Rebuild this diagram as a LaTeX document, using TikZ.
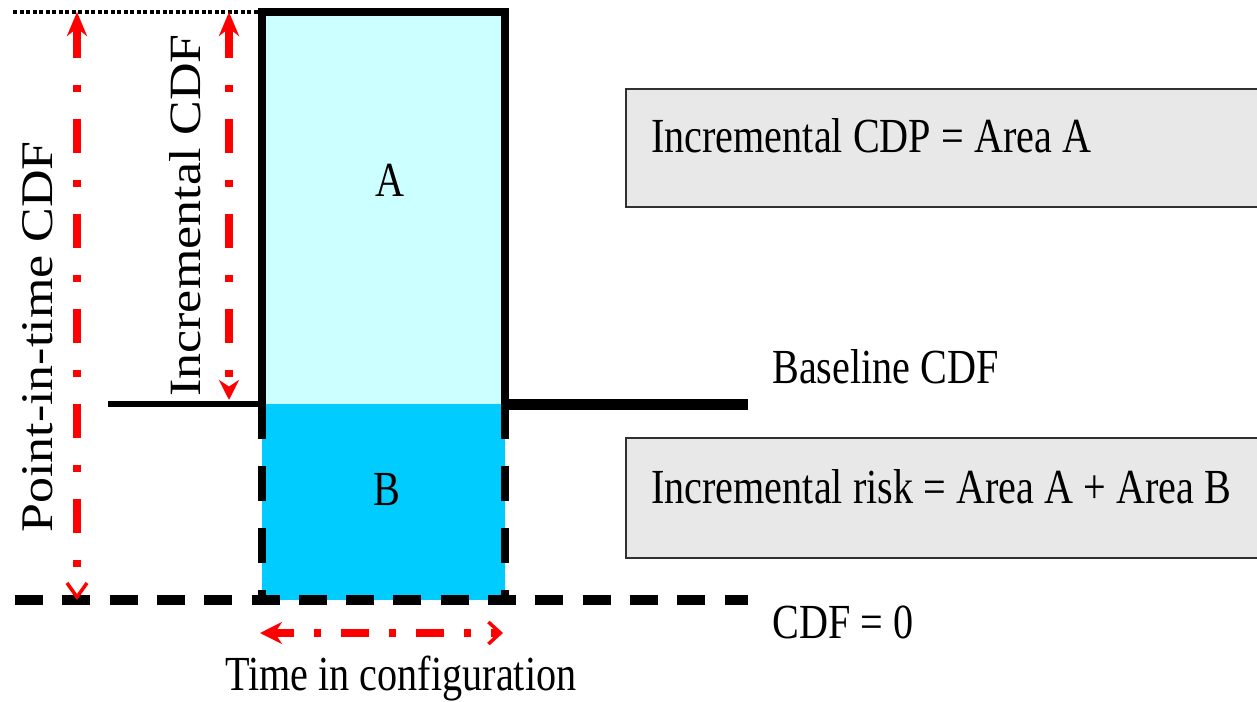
\documentclass[tikz,border=0pt]{standalone}
\usepackage{fontspec}
\setmainfont{Liberation Serif}
\usetikzlibrary{arrows.meta}
\definecolor{areaA}{HTML}{CCFFFF}
\definecolor{areaB}{HTML}{00CCFF}
\definecolor{boxgray}{HTML}{E8E8E8}
\definecolor{boxedge}{HTML}{303030}
\tikzset{
  htext/.style={inner sep=0pt, font=\fontsize{49}{58}\selectfont},
  vtext/.style={inner sep=0pt, rotate=90, anchor=base west, font=\fontsize{52}{60}\selectfont},
  notebox/.style={draw=boxedge, fill=boxgray, line width=2pt, anchor=north west, inner sep=0pt, minimum width=700pt, minimum height=118pt},
  vred/.style={red, line width=7.5pt, dash pattern=on 34pt off 27pt on 7pt off 27pt, dash phase=3pt},
  hred/.style={red, line width=8pt, dash pattern=on 28pt off 20pt on 7pt off 20pt, dash phase=8pt},
  blackdash/.style={line width=10pt, dash pattern=on 28pt off 19.3pt},
  sidedash/.style={line width=8pt, dash pattern=on 35pt off 27pt},
}
\begin{document}
\begin{tikzpicture}[x=1pt,y=-1pt]
\useasboundingbox (0,0) rectangle (1257,701);
\clip (0,0) rectangle (1257,701);
% key points
\coordinate (TL) at (262,12);
\coordinate (TR) at (505,12);
\coordinate (ML) at (262,404);
\coordinate (MR) at (505,404);
\coordinate (BL) at (262,600);
\coordinate (BR) at (505,600);
\coordinate (dotL) at (13,12);
\coordinate (baseL) at (108,404);
\coordinate (baseR) at (748,404);
\coordinate (zeroL) at (15,600);
\coordinate (zeroR) at (748,600);
\coordinate (pitTop) at (77,12);
\coordinate (pitBot) at (77,600);
\coordinate (incTop) at (229,12);
\coordinate (incBot) at (229,400);
\coordinate (timeL) at (260,633);
\coordinate (timeR) at (503,633);
% areas
\fill[areaA] (TL) rectangle (MR);
\fill[areaB] (ML) rectangle (BR);
% boxes
\node[notebox] (box1) at (625,88) {};
\node[notebox, minimum height=120pt] (box2) at (625,437) {};
% lines
\draw[line width=4pt, dash pattern=on 4pt off 2.5pt] (dotL) -- (TL);
\draw[line width=6pt] (baseL) -- (ML);
\draw[line width=11pt] (MR) -- (baseR);
\draw[line width=7.5pt, line join=miter] (ML) -- (TL) -- (TR) -- (MR);
\draw[sidedash] (ML) -- (BL);
\draw[sidedash] (MR) -- (BR);
\draw[blackdash] (zeroL) -- (zeroR);
% red arrows
\draw[vred, {Stealth[length=24pt,width=20pt]}-{Straight Barb[length=14pt,width=20pt,line width=3.5pt]}] (pitTop) -- (pitBot);
\draw[vred, {Stealth[length=24pt,width=20pt]}-{Stealth[length=20pt,width=20pt]}] (incTop) -- (incBot);
\draw[hred, {Stealth[length=22pt,width=22pt]}-{Straight Barb[length=12pt,width=22pt,line width=3.5pt]}] (timeL) -- (timeR);
% texts
\node[htext] (lblA) at (390,180) {\scalebox{0.82}[1]{A}};
\node[htext] (lblB) at (387,490) {\scalebox{0.82}[1]{B}};
\node[htext, anchor=base west] (cdp) at (651,152) {\scalebox{0.82}[1]{Incremental CDP = Area A}};
\node[htext, anchor=base west] (risk) at (651,503) {\scalebox{0.82}[1]{Incremental risk = Area A + Area B}};
\node[htext, anchor=base west] (basel) at (772,383) {\scalebox{0.82}[1]{Baseline CDF}};
\node[htext, anchor=base west] (zero) at (772,638) {\scalebox{0.82}[1]{CDF = 0}};
\node[htext, anchor=base west] (time) at (225,690) {\scalebox{0.82}[1]{Time in configuration}};
\node[vtext] (pit) at (52,533) {\scalebox{1}[0.87]{Point-in-time CDF}};
\node[vtext] (icdf) at (200,397) {\scalebox{1}[0.86]{Incremental CDF}};
\end{tikzpicture}
\end{document}
